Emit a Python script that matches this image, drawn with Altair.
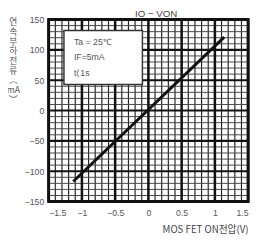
import altair as alt
import pandas as pd

# ---- data ----
x_ticks = [-1.5, -1, -0.5, 0, 0.5, 1, 1.5]
y_ticks = [-150, -100, -50, 0, 50, 100, 150]
x_minor = [round(-1.5 + 0.1 * i, 1) for i in range(31)]
y_minor = [-150 + 10 * i for i in range(31)]
line_x = [-1.13, 1.14]
line_y = [-117, 121]
box_x = [-1.27, -0.09]
box_y = [43, 132]
info_lines = ["Ta = 25\u2103", "IF=5mA", "t\u27e81s"]
info_x = [-1.12, -1.12, -1.12]
info_y = [113, 88, 61]

chart_title = "IO \u2212 VON"
x_title = "MOS FET ON전압(V)"
y_title_lines = ["연", "속", "부", "하", "전", "류", "\ufe35", "mA", "\ufe36"]

W, H = 206, 188
KFONT = "Noto Sans CJK KR"
NFONT = "Liberation Sans"

xs = alt.Scale(domain=[-1.5, 1.5], nice=False, zero=False)
ys = alt.Scale(domain=[-150, 150], nice=False, zero=False)
xaxis = alt.Axis(values=x_ticks, grid=False, ticks=False, domain=False, format="~g",
                 labelFontSize=9, labelColor="#555", labelFont=NFONT, labelPadding=7,
                 title=x_title, titleFont=KFONT, titleFontSize=10, titleFontWeight="normal",
                 titleColor="#444", titleAnchor="end", titlePadding=8)
yaxis = alt.Axis(values=y_ticks, grid=False, ticks=False, domain=False, format="d",
                 labelFontSize=9, labelColor="#555", labelFont=NFONT, labelPadding=5,
                 title=None)

X = lambda f="x": alt.X(f"{f}:Q", scale=xs, axis=xaxis)
Y = lambda f="y": alt.Y(f"{f}:Q", scale=ys, axis=yaxis)

vminor = alt.Chart(pd.DataFrame({"x": [v for v in x_minor if v not in x_ticks]})).mark_rule(
    color="#222", strokeWidth=1.2).encode(x=X())
hminor = alt.Chart(pd.DataFrame({"y": [v for v in y_minor if v not in y_ticks]})).mark_rule(
    color="#444", strokeWidth=1.0).encode(y=Y())
vmajor = alt.Chart(pd.DataFrame({"x": x_ticks})).mark_rule(
    color="#111", strokeWidth=2.6).encode(x=X())
hmajor = alt.Chart(pd.DataFrame({"y": y_ticks})).mark_rule(
    color="#111", strokeWidth=2.2).encode(y=Y())

box = alt.Chart(pd.DataFrame({"x": [box_x[0]], "x2": [box_x[1]], "y": [box_y[0]], "y2": [box_y[1]]})).mark_rect(
    fill="white", stroke="#333", strokeWidth=1.5).encode(x=X(), x2="x2", y=Y(), y2="y2")

info = alt.Chart(pd.DataFrame({"x": info_x, "y": info_y, "t": info_lines})).mark_text(
    align="left", baseline="middle", fontSize=9, font=NFONT, color="#555").encode(
    x=X(), y=Y(), text="t:N")

line = alt.Chart(pd.DataFrame({"x": line_x, "y": line_y})).mark_line(
    color="#111", strokeWidth=3).encode(x=X(), y=Y())

title = alt.Chart(pd.DataFrame({"a": [0]})).mark_text(
    align="center", baseline="alphabetic", fontSize=10, font=NFONT, color="#444").encode(
    x=alt.value(111), y=alt.value(-3), text=alt.value(chart_title))

ytitle = alt.Chart(pd.DataFrame({"a": [0]})).mark_text(
    align="center", baseline="top", fontSize=9, font=KFONT, color="#555",
    lineHeight=10, lineBreak="\n").encode(
    x=alt.value(-36.5), y=alt.value(-1), text=alt.value("\n".join(y_title_lines)))

chart = alt.layer(vminor, hminor, vmajor, hmajor, box, info, line, title, ytitle).properties(
    width=W, height=H,
    autosize=alt.AutoSizeParams(type="none"),
    padding={"left": 42, "top": 8, "right": 4, "bottom": 42},
).configure_view(stroke="#111", strokeWidth=3)

chart.save("out.html", embed_options={"renderer": "svg", "actions": False})
